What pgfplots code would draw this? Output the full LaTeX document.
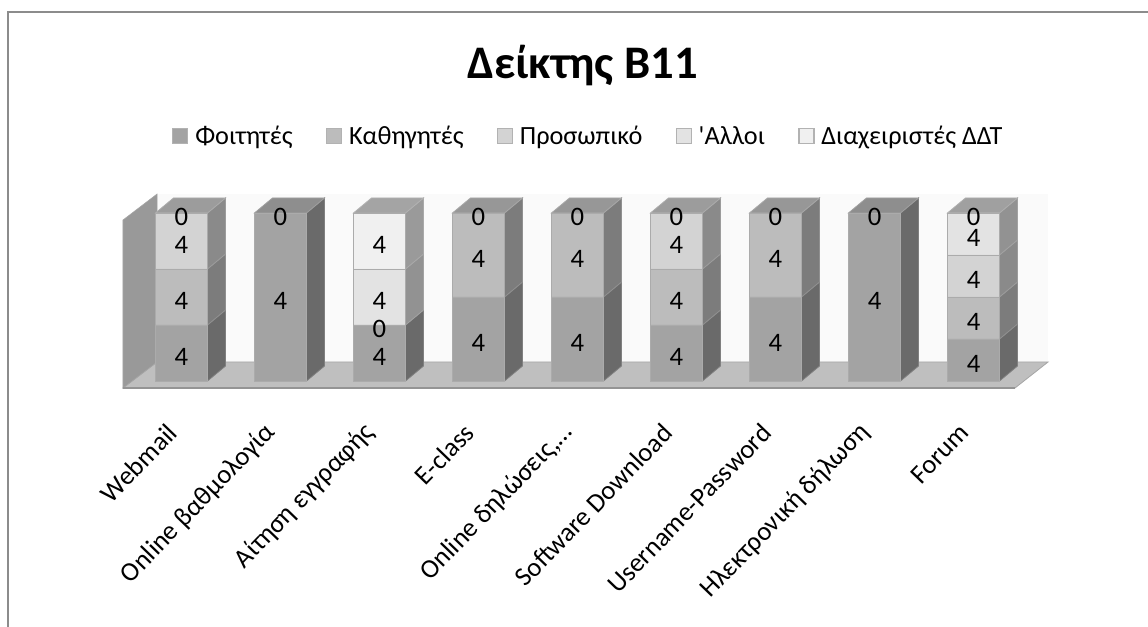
\documentclass[border=0pt]{standalone}
\usepackage{fontspec}
\setmainfont{Carlito}
\newfontfamily\plainf{Carlito}
\usepackage{pgfplots}
\usepackage{pgfplotstable}
\pgfplotsset{compat=1.18}
\definecolor{cF}{HTML}{A3A3A3}
\definecolor{cK}{HTML}{BCBCBC}
\definecolor{cP}{HTML}{D3D3D3}
\definecolor{cA}{HTML}{E3E3E3}
\definecolor{cD}{HTML}{F0F0F0}
\definecolor{sF}{HTML}{6A6A6A}
\definecolor{sK}{HTML}{7C7C7C}
\definecolor{sP}{HTML}{8A8A8A}
\definecolor{sA}{HTML}{929292}
\definecolor{sD}{HTML}{9A9A9A}
\definecolor{tF}{HTML}{8E8E8E}
\definecolor{tK}{HTML}{979797}
\definecolor{tP}{HTML}{9C9C9C}
\definecolor{tA}{HTML}{A0A0A0}
\definecolor{tD}{HTML}{A4A4A4}
\definecolor{edge}{HTML}{ABABAB}
\pgfplotstableread{
idx F K P A D T
0 4 4 4 0 0 12
1 4 0 0 0 0 4
2 4 0 0 4 4 12
3 4 4 0 0 0 8
4 4 4 0 0 0 8
5 4 4 4 0 0 12
6 4 4 0 0 0 8
7 4 0 0 0 0 4
8 4 4 4 4 0 16
}\datatable
\pgfplotstableread{
x y l
0 16.67 4
0 50 4
0 83.33 4
0 100 0
1 50 4
1 100 0
2 16.67 4
2 33.33 0
2 50 4
2 83.33 4
3 25 4
3 75 4
3 100 0
4 25 4
4 75 4
4 100 0
5 16.67 4
5 50 4
5 83.33 4
5 100 0
6 25 4
6 75 4
6 100 0
7 50 4
7 100 0
8 12.5 4
8 37.5 4
8 62.5 4
8 87.5 4
8 100 0
}\labeltable
\pgfplotsset{base/.style={
  at={(61.875pt,184.5pt)},anchor=south west,
  scale only axis,width=742.5pt,height=126pt,
  xmin=-1,xmax=9,ymin=0,ymax=100,clip=false,
}}
\newcommand{\seg}[4]{%
  \pgfmathsetmacro\xa{#1+0.2626}\pgfmathsetmacro\xb{#1+0.2626+0.1818}%
  \pgfmathsetmacro\ya{#2+8.93}\pgfmathsetmacro\yb{#3+8.93}%
  \addplot[fill=#4,draw=#4!85!white,line width=0.6pt] coordinates {(\xa,#2) (\xb,\ya) (\xb,\yb) (\xa,#3)} --cycle;
}
\newcommand{\topf}[2]{%
  \pgfmathsetmacro\xa{#1-0.2626}\pgfmathsetmacro\xb{#1+0.2626}%
  \pgfmathsetmacro\xc{#1-0.2626+0.1818}\pgfmathsetmacro\xd{#1+0.2626+0.1818}%
  \addplot[fill=#2,draw=#2!85!white,line width=0.6pt] coordinates {(\xa,100) (\xb,100) (\xd,108.93) (\xc,108.93)} --cycle;
}
\begin{document}
\begin{tikzpicture}[x=1pt,y=1pt]
\path[use as bounding box] (0,0) rectangle (861,470.25);
\fill[white] (0,0) rectangle (861,470.25);
\draw[color=black!45,line width=1.5pt] (6,0) -- (6,461.25) -- (861,461.25);
% walls, floor and the side and top faces of the bars
\begin{axis}[base,hide axis]
\addplot[fill=black!2,draw=none] coordinates {(-0.247,11.31) (8.753,11.31) (8.753,111.3) (-0.247,111.3)} --cycle;
\addplot[fill=black!25,draw=black!35,line width=0.6pt] coordinates {(-0.591,-4.17) (8.419,-4.17) (8.753,11.31) (-0.247,11.31)} --cycle;
\addplot[fill=black!40,draw=black!35,line width=0.4pt] coordinates {(-0.591,-4.17) (-0.247,11.31) (-0.247,111.3) (-0.591,95.83)} --cycle;
\addplot[draw=black!42,line width=1.5pt] coordinates {(-0.591,-4.17) (8.419,-4.17)};
\seg{0}{0}{33.33}{sF}\seg{0}{33.33}{66.67}{sK}\seg{0}{66.67}{100}{sP}\topf{0}{tP}
\seg{1}{0}{100}{sF}\topf{1}{tF}
\seg{2}{0}{33.33}{sF}\seg{2}{33.33}{66.67}{sA}\seg{2}{66.67}{100}{sD}\topf{2}{tD}
\seg{3}{0}{50}{sF}\seg{3}{50}{100}{sK}\topf{3}{tK}
\seg{4}{0}{50}{sF}\seg{4}{50}{100}{sK}\topf{4}{tK}
\seg{5}{0}{33.33}{sF}\seg{5}{33.33}{66.67}{sK}\seg{5}{66.67}{100}{sP}\topf{5}{tP}
\seg{6}{0}{50}{sF}\seg{6}{50}{100}{sK}\topf{6}{tK}
\seg{7}{0}{100}{sF}\topf{7}{tF}
\seg{8}{0}{25}{sF}\seg{8}{25}{50}{sK}\seg{8}{50}{75}{sP}\seg{8}{75}{100}{sA}\topf{8}{tA}
\end{axis}
% the stacked bars
\begin{axis}[base,ybar stacked,bar width=0.525,
  axis line style={draw=none},ytick=\empty,major tick length=0pt,
  xtick={0,...,8},
  xticklabels={Webmail,Online βαθμολογία,Αίτηση εγγραφής,E-class,{Online δηλώσεις,…},Software Download,Username-Password,Ηλεκτρονική δήλωση,Forum},
  x tick label style={font=\fontsize{20}{22}\selectfont,xshift=-4.5pt,yshift=-33pt,rotate=46,anchor=east},
  title={\fontsize{35}{38}\selectfont\bfseries Δείκτης Β11},
  title style={at={(0.505,1.83)},anchor=center},
  legend columns=-1,
  legend style={at={(0.0904,1.458)},anchor=west,draw=none,fill=none,inner sep=0pt,
    font=\fontsize{19.7}{22}\selectfont,
    /tikz/every even column/.append style={column sep=23pt}},
  legend image code/.code={\draw[#1,draw=black!30,line width=0.9pt] (0pt,-5.6pt) rectangle (11.25pt,5.6pt);\path (14.5pt,0);},
]
\addplot[fill=cF,draw=edge,line width=0.6pt] table[x=idx,y expr=100*\thisrow{F}/\thisrow{T}] {\datatable};
\addplot[fill=cK,draw=edge,line width=0.6pt] table[x=idx,y expr=100*\thisrow{K}/\thisrow{T}] {\datatable};
\addplot[fill=cP,draw=edge,line width=0.6pt] table[x=idx,y expr=100*\thisrow{P}/\thisrow{T}] {\datatable};
\addplot[fill=cA,draw=edge,line width=0.6pt] table[x=idx,y expr=100*\thisrow{A}/\thisrow{T}] {\datatable};
\addplot[fill=cD,draw=edge,line width=0.6pt] table[x=idx,y expr=100*\thisrow{D}/\thisrow{T}] {\datatable};
\legend{Φοιτητές,Καθηγητές,Προσωπικό,{\plainf '}Αλλοι,Διαχειριστές ΔΔΤ}
\end{axis}
% the data labels
\begin{axis}[base,hide axis]
\addplot[draw=none,mark=none,
  nodes near coords,point meta=explicit symbolic,
  every node near coord/.style={anchor=center,yshift=-3pt,inner sep=0pt,text=black,font=\fontsize{20}{22}\selectfont}]
  table[x=x,y=y,meta=l] {\labeltable};
\end{axis}
\end{tikzpicture}
\end{document}
